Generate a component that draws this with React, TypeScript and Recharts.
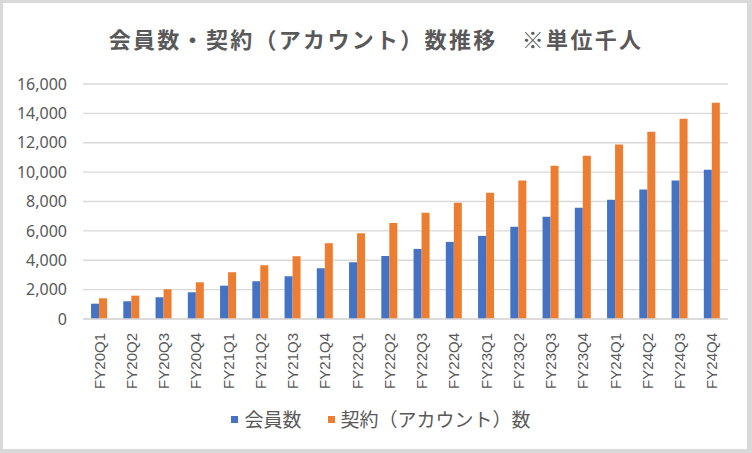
import React from "react";
import { BarChart, Bar, XAxis, YAxis, CartesianGrid, Legend } from "recharts";

const categories = [
  "FY20Q1", "FY20Q2", "FY20Q3", "FY20Q4",
  "FY21Q1", "FY21Q2", "FY21Q3", "FY21Q4",
  "FY22Q1", "FY22Q2", "FY22Q3", "FY22Q4",
  "FY23Q1", "FY23Q2", "FY23Q3", "FY23Q4",
  "FY24Q1", "FY24Q2", "FY24Q3", "FY24Q4",
];
const members = [1043, 1207, 1480, 1820, 2270, 2570, 2910, 3455, 3865, 4290, 4773, 5250, 5660, 6273, 6955, 7568, 8114, 8816, 9430, 10159];
const accounts = [1411, 1590, 2025, 2500, 3185, 3660, 4275, 5160, 5840, 6535, 7227, 7909, 8590, 9430, 10432, 11114, 11884, 12750, 13636, 14727];
const yTicks = [0, 2000, 4000, 6000, 8000, 10000, 12000, 14000, 16000];

const seriesNames = { members: "会員数", accounts: "契約（アカウント）数" };
const title = "会員数・契約（アカウント）数推移　※単位千人";

const data = categories.map((c, i) => ({ name: c, members: members[i], accounts: accounts[i] }));

const TEXT = "#595959";
const CJK = '"Noto Sans CJK JP", "Noto Sans", sans-serif';

const XTick = (props: any) => {
  const { x, y, payload } = props;
  return (
    <g transform={`translate(${x},${y})`}>
      <text
        transform="rotate(-90)"
        textAnchor="end"
        dominantBaseline="central"
        fill={TEXT}
        fontSize={15}
        fontFamily='"Liberation Sans", Arial, sans-serif'
      >
        {payload.value}
      </text>
    </g>
  );
};

const LegendContent = (props: any) => {
  const { payload } = props;
  return (
    <div style={{ display: "flex", justifyContent: "center", alignItems: "center", height: 24, paddingLeft: 34 }}>
      {(payload || []).map((p: any, i: number) => (
        <div key={i} style={{ display: "flex", alignItems: "center", marginLeft: i === 0 ? 0 : 26 }}>
          <span style={{ display: "inline-block", width: 7, height: 7, background: p.color, marginRight: 6 }} />
          <span style={{ fontFamily: CJK, fontSize: 19, color: TEXT, letterSpacing: 0, lineHeight: "24px" }}>{p.value}</span>
        </div>
      ))}
    </div>
  );
};

export default function App() {
  return (
    <div style={{ position: "absolute", left: 0, top: 0, width: 752, height: 453, background: "#d9d9d9", overflow: "hidden" }}>
      <div style={{ position: "absolute", left: 3, top: 3, width: 744, height: 446, background: "#ffffff" }} />
      <div
        style={{
          position: "absolute",
          left: 0,
          top: 23,
          width: 752,
          textAlign: "center",
          fontFamily: CJK,
          fontSize: 22,
          fontWeight: 700,
          lineHeight: "30px",
          color: TEXT,
          letterSpacing: 2.3,
          whiteSpace: "pre",
        }}
      >
        {title}
      </div>
      <div style={{ position: "absolute", left: 0, top: 0 }}>
        <BarChart
          width={752}
          height={453}
          data={data}
          margin={{ top: 84, right: 24, bottom: 22, left: 0 }}
          barCategoryGap="25%"
          barGap={0}
        >
          <CartesianGrid vertical={false} stroke="#d9d9d9" strokeWidth={1.3} />
          <XAxis
            dataKey="name"
            interval={0}
            height={88}
            tickLine={false}
            tickMargin={8}
            axisLine={{ stroke: "#d9d9d9", strokeWidth: 1.3 }}
            tick={<XTick />}
          />
          <YAxis
            width={83}
            domain={[0, 16000]}
            ticks={yTicks}
            interval={0}
            axisLine={false}
            tickLine={false}
            tickMargin={10}
            tickFormatter={(v: number) => v.toLocaleString("en-US")}
            tick={{ fill: TEXT, fontSize: 16, fontFamily: '"Noto Sans", sans-serif' }}
          />
          <Legend verticalAlign="bottom" height={24} content={<LegendContent />} />
          <Bar dataKey="members" name={seriesNames.members} fill="#4472C4" isAnimationActive={false} />
          <Bar dataKey="accounts" name={seriesNames.accounts} fill="#ED7D31" isAnimationActive={false} />
        </BarChart>
      </div>
    </div>
  );
}
